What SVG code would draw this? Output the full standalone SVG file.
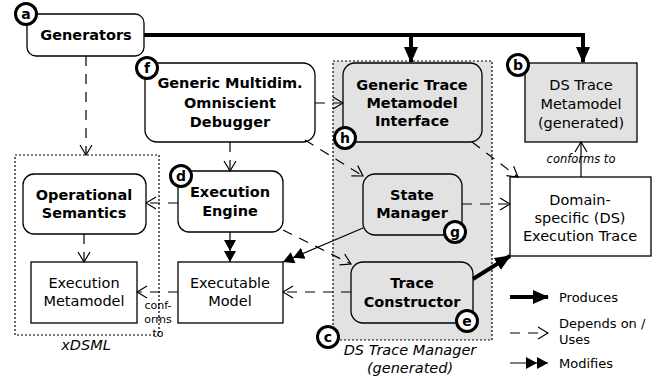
<svg xmlns="http://www.w3.org/2000/svg" width="657" height="379" viewBox="0 0 657 379">
<defs>
<marker id="open" viewBox="0 0 12 14" markerWidth="12" markerHeight="14" refX="11" refY="7" orient="auto" markerUnits="userSpaceOnUse"><path d="M1,1 L11,7 L1,13" fill="none" stroke="#000" stroke-width="1.2"/></marker>
<marker id="fill" viewBox="0 0 16 14" markerWidth="16" markerHeight="14" refX="15" refY="7" orient="auto" markerUnits="userSpaceOnUse"><path d="M0,0 L16,7 L0,14 z" fill="#000"/></marker>
<marker id="dbl" viewBox="0 0 22 12" markerWidth="22" markerHeight="12" refX="22" refY="6" orient="auto" markerUnits="userSpaceOnUse"><path d="M0,0 L11,6 L0,12 z M11,0 L22,6 L11,12 z" fill="#000"/></marker>
</defs>
<style>
text{font-family:"DejaVu Sans",sans-serif;font-size:14.5px;fill:#000}
.b{font-weight:bold}
.i{font-style:italic}
.s{font-size:11px}
.l{font-size:13px}
.box{fill:#fff;stroke:#000;stroke-width:1.3}
.gray{fill:#e2e2e2}
.cont{stroke:#000;stroke-width:1.2;stroke-dasharray:2,2}
.dep{fill:none;stroke:#000;stroke-width:1.2;stroke-dasharray:10,8;marker-end:url(#open)}
.prod{fill:none;stroke:#000;stroke-width:4;marker-end:url(#fill)}
.mod{fill:none;stroke:#000;stroke-width:1.2;marker-end:url(#dbl)}
.lab circle{fill:#fff;stroke:#000;stroke-width:3}
.lab text{font-weight:bold;font-size:14px;text-anchor:middle}
</style>
<g id="xdsml">
<rect x="15" y="155" width="144" height="180" fill="#fff" class="cont"/>
<text x="86" y="350" class="i" text-anchor="middle">xDSML</text>
</g>
<g id="trace-manager">
<rect x="333" y="61" width="159" height="279" class="cont gray"/>
<text x="410" y="355" class="i" text-anchor="middle">DS Trace Manager</text>
<text x="410" y="373" class="i" text-anchor="middle">(generated)</text>
</g>
<g id="generators">
<rect x="27" y="14" width="117" height="42" rx="9" class="box"/>
<text x="86" y="40" class="b" text-anchor="middle">Generators</text>
</g>
<g id="ds-trace-metamodel">
<rect x="525" y="63" width="112" height="79" class="box gray"/>
<text x="581" y="90" text-anchor="middle">DS Trace</text>
<text x="581" y="109" text-anchor="middle">Metamodel</text>
<text x="581" y="128" text-anchor="middle">(generated)</text>
</g>
<g id="gtmi">
<rect x="343" y="63" width="139" height="79" rx="12" class="box gray"/>
<text x="412" y="90" class="b" text-anchor="middle">Generic Trace</text>
<text x="412" y="108" class="b" text-anchor="middle">Metamodel</text>
<text x="412" y="126" class="b" text-anchor="middle">Interface</text>
</g>
<g id="debugger">
<rect x="145" y="63" width="170" height="79" rx="12" class="box"/>
<text x="230" y="88" class="b" text-anchor="middle">Generic Multidim.</text>
<text x="230" y="108" class="b" text-anchor="middle">Omniscient</text>
<text x="230" y="127" class="b" text-anchor="middle">Debugger</text>
</g>
<g id="state-manager">
<rect x="363" y="174" width="99" height="61" rx="12" class="box gray"/>
<text x="412" y="200" class="b" text-anchor="middle">State</text>
<text x="412" y="218" class="b" text-anchor="middle">Manager</text>
</g>
<g id="trace-constructor">
<rect x="351" y="262" width="122" height="61" rx="12" class="box gray"/>
<text x="412" y="288" class="b" text-anchor="middle">Trace</text>
<text x="412" y="307" class="b" text-anchor="middle">Constructor</text>
</g>
<g id="domain-trace">
<rect x="510" y="177" width="141" height="79" class="box"/>
<text x="580" y="205" text-anchor="middle">Domain-</text>
<text x="580" y="223" text-anchor="middle">specific (DS)</text>
<text x="580" y="241" text-anchor="middle">Execution Trace</text>
</g>
<g id="operational-semantics">
<rect x="23" y="174" width="123" height="60" rx="11" class="box"/>
<text x="84" y="200" class="b" text-anchor="middle">Operational</text>
<text x="84" y="218" class="b" text-anchor="middle">Semantics</text>
</g>
<g id="execution-metamodel">
<rect x="31" y="262" width="106" height="61" class="box"/>
<text x="84" y="288" text-anchor="middle">Execution</text>
<text x="84" y="306" text-anchor="middle">Metamodel</text>
</g>
<g id="execution-engine">
<rect x="178" y="171" width="105" height="61" rx="11" class="box"/>
<text x="230" y="197" class="b" text-anchor="middle">Execution</text>
<text x="230" y="216" class="b" text-anchor="middle">Engine</text>
</g>
<g id="executable-model">
<rect x="178" y="262" width="105" height="61" class="box"/>
<text x="230" y="288" text-anchor="middle">Executable</text>
<text x="230" y="306" text-anchor="middle">Model</text>
</g>
<g id="connectors">
<path d="M144,35 H583 V62" class="prod"/>
<path d="M411,35 V62" class="prod"/>
<path d="M473,279 L510,256" class="prod"/>
<path d="M86,56 V155" class="dep"/>
<path d="M315,103 H343" class="dep"/>
<path d="M230,142 V171" class="dep"/>
<path d="M305,140 L363,176" class="dep"/>
<path d="M472,142 L518,177" class="dep"/>
<path d="M178,203 H146" class="dep" stroke-dasharray="12,8"/>
<path d="M84,234 V262" class="dep"/>
<path d="M462,204 H510" class="dep"/>
<path d="M283,230 L351,264" class="dep"/>
<path d="M351,292 H283" class="dep"/>
<path d="M178,292 H137" class="dep"/>
<path d="M581,177 V142" fill="none" stroke="#000" stroke-width="1.2" marker-end="url(#open)"/>
<path d="M230,232 V262" class="mod"/>
<path d="M363,228 L283,262" class="mod"/>
<text x="581" y="163" class="i s" text-anchor="middle" style="font-size:11.5px">conforms to</text>
<text x="158" y="309" class="s" text-anchor="middle">conf-</text>
<text x="158" y="323" class="s" text-anchor="middle">orms</text>
<text x="158" y="337" class="s" text-anchor="middle">to</text>
</g>
<g id="labels" class="lab">
<circle cx="26" cy="14" r="10.5"/><text x="26" y="19">a</text>
<circle cx="518" cy="65" r="10.5"/><text x="518" y="70">b</text>
<circle cx="328" cy="337" r="10.5"/><text x="328" y="342">c</text>
<circle cx="181" cy="176" r="10.5"/><text x="181" y="181">d</text>
<circle cx="467" cy="321" r="10.5"/><text x="467" y="326">e</text>
<circle cx="147" cy="68" r="10.5"/><text x="147" y="73">f</text>
<circle cx="455" cy="232" r="10.5"/><text x="455" y="237">g</text>
<circle cx="345" cy="138" r="10.5"/><text x="345" y="143">h</text>
</g>
<g id="legend">
<path d="M510,297 H548" class="prod"/>
<text x="559" y="302" class="l">Produces</text>
<path d="M510,333 H548" class="dep"/>
<text x="559" y="328" class="l">Depends on /</text>
<text x="559" y="344" class="l">Uses</text>
<path d="M510,363 H548" class="mod"/>
<text x="559" y="368" class="l">Modifies</text>
</g>
</svg>
